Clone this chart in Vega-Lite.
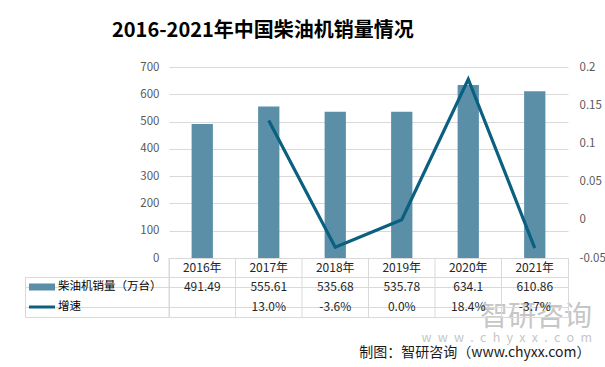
{
  "$schema": "https://vega.github.io/schema/vega-lite/v6.json",
  "background": "white",
  "padding": {"left": 24, "top": 21, "right": 4, "bottom": 2},
  "autosize": {"type": "pad"},
  "title": {
    "text": "2016-2021年中国柴油机销量情况",
    "font": "Noto Sans CJK SC",
    "fontSize": 20,
    "fontWeight": "bold",
    "color": "#000000",
    "anchor": "start",
    "frame": "group",
    "dx": 87,
    "offset": 20
  },
  "config": {
    "font": "Noto Sans CJK SC",
    "view": {"stroke": null},
    "locale": {"number": {"decimal": ".", "thousands": ",", "grouping": [3], "currency": ["", ""], "minus": "-"}},
    "axis": {"labelFont": "Noto Sans CJK SC", "labelColor": "#595959", "labelFontSize": 11.5}
  },
  "datasets": {
    "sales": [
      {"year": "2016年", "sales": 491.49, "growth": null},
      {"year": "2017年", "sales": 555.61, "growth": 0.130},
      {"year": "2018年", "sales": 535.68, "growth": -0.036},
      {"year": "2019年", "sales": 535.78, "growth": 0.0002},
      {"year": "2020年", "sales": 634.1, "growth": 0.184},
      {"year": "2021年", "sales": 610.86, "growth": -0.037}
    ],
    "series": [
      {"series": "柴油机销量（万台）", "kind": "bar"},
      {"series": "增速", "kind": "line"}
    ]
  },
  "columns": 2,
  "spacing": 0,
  "bounds": "flush",
  "concat": [
    {
      "width": 144,
      "height": 191,
      "data": {"values": []},
      "mark": "point",
      "encoding": {}
    },
    {
      "width": 399,
      "height": 191,
      "data": {"name": "sales"},
      "encoding": {
        "x": {
          "field": "year",
          "type": "nominal",
          "sort": null,
          "scale": {"paddingInner": 0, "paddingOuter": 0},
          "axis": null
        }
      },
      "layer": [
        {
          "mark": {"type": "bar", "color": "#5b8fa8", "width": {"band": 0.32}},
          "encoding": {
            "y": {
              "field": "sales",
              "type": "quantitative",
              "scale": {"domain": [0, 700]},
              "axis": {
                "values": [0, 100, 200, 300, 400, 500, 600, 700],
                "grid": true,
                "gridColor": "#d9d9d9",
                "domain": false,
                "ticks": false,
                "labelPadding": 10,
                "title": null
              }
            }
          }
        },
        {
          "mark": {"type": "line", "color": "#0b6080", "strokeWidth": 3.2},
          "encoding": {
            "y": {
              "field": "growth",
              "type": "quantitative",
              "scale": {"domain": [-0.05, 0.2]},
              "axis": {
                "orient": "right",
                "values": [-0.05, 0, 0.05, 0.1, 0.15, 0.2],
                "format": "~g",
                "grid": false,
                "domain": false,
                "ticks": false,
                "labelPadding": 11,
                "title": null
              }
            }
          }
        }
      ],
      "resolve": {"scale": {"y": "independent"}}
    },
    {
      "width": 144,
      "height": 19,
      "data": {"values": []},
      "mark": "point",
      "encoding": {}
    },
    {
      "width": 399,
      "height": 19,
      "view": {"stroke": "#d9d9d9"},
      "title": {
        "text": "智研咨询",
        "subtitle": "w\u2002w\u2002w\u2002.\u2002c\u2002h\u2002y\u2002x\u2002x\u2002.\u2002c\u2002o\u2002m",
        "orient": "bottom",
        "anchor": "end",
        "dx": 24,
        "offset": 26,
        "fontSize": 28,
        "fontWeight": "normal",
        "color": "#c6c6c6",
        "subtitleColor": "#c6c6c6",
        "subtitleFontSize": 12.5,
        "subtitlePadding": 0
      },
      "data": {"name": "sales"},
      "encoding": {
        "x": {
          "field": "year",
          "type": "nominal",
          "sort": null,
          "scale": {"paddingInner": 0, "paddingOuter": 0},
          "axis": null
        }
      },
      "layer": [
        {
          "mark": {"type": "rule", "color": "#d9d9d9", "strokeWidth": 1},
          "encoding": {"x": {"field": "year", "type": "nominal", "bandPosition": 0}}
        },
        {
          "mark": {"type": "text", "fontSize": 12, "color": "#262626"},
          "encoding": {"text": {"field": "year", "type": "nominal"}}
        }
      ]
    },
    {
      "width": 144,
      "height": 40,
      "view": {"stroke": "#d9d9d9"},
      "data": {"name": "series"},
      "encoding": {
        "y": {
          "field": "series",
          "type": "nominal",
          "sort": null,
          "scale": {"paddingInner": 0, "paddingOuter": 0},
          "axis": {"grid": true, "bandPosition": 0, "gridColor": "#d9d9d9", "labels": false, "ticks": false, "domain": false, "title": null}
        }
      },
      "layer": [
        {
          "mark": {"type": "text", "align": "left", "dx": -39, "fontSize": 11.5, "color": "#000000"},
          "encoding": {"text": {"field": "series", "type": "nominal"}}
        },
        {
          "mark": {"type": "point", "filled": true, "opacity": 1, "strokeWidth": 0, "xOffset": -55, "size": 676},
          "encoding": {
            "shape": {
              "field": "kind",
              "type": "nominal",
              "scale": {"domain": ["bar", "line"], "range": ["M-1,-0.27H1V0.27H-1Z", "M-1,-0.115H1V0.115H-1Z"]},
              "legend": null
            },
            "color": {
              "field": "kind",
              "type": "nominal",
              "scale": {"domain": ["bar", "line"], "range": ["#5b8fa8", "#0b6080"]},
              "legend": null
            }
          }
        }
      ]
    },
    {
      "width": 399,
      "height": 40,
      "view": {"stroke": "#d9d9d9"},
      "data": {"name": "sales"},
      "encoding": {
        "x": {
          "field": "year",
          "type": "nominal",
          "sort": null,
          "scale": {"paddingInner": 0, "paddingOuter": 0},
          "axis": {
            "grid": false,
            "labels": false,
            "ticks": false,
            "domain": false,
            "title": "制图：智研咨询（www.chyxx.com）",
            "titleFontSize": 14,
            "titleFontWeight": "normal",
            "titleColor": "#1a1a1a",
            "titleAnchor": "end",
            "titleAlign": "right",
            "titleX": 421,
            "titlePadding": 28
          }
        }
      },
      "layer": [
        {
          "mark": {"type": "rule", "color": "#d9d9d9", "strokeWidth": 1},
          "encoding": {"x": {"field": "year", "type": "nominal", "bandPosition": 0}}
        },
        {
          "mark": {"type": "text", "fontSize": 12, "color": "#262626"},
          "encoding": {
            "y": {
              "datum": "sales",
              "type": "nominal",
              "scale": {"domain": ["sales", "growth"], "paddingInner": 0, "paddingOuter": 0},
              "axis": {"grid": true, "bandPosition": 0, "gridColor": "#d9d9d9", "labels": false, "ticks": false, "domain": false, "title": null}
            },
            "text": {"field": "sales", "type": "nominal"}
          }
        },
        {
          "transform": [{"filter": "isValid(datum.growth)"}],
          "mark": {"type": "text", "fontSize": 12, "color": "#262626"},
          "encoding": {
            "y": {"datum": "growth", "type": "nominal"},
            "text": {"field": "growth", "type": "quantitative", "format": ".1%"}
          }
        }
      ]
    }
  ]
}
